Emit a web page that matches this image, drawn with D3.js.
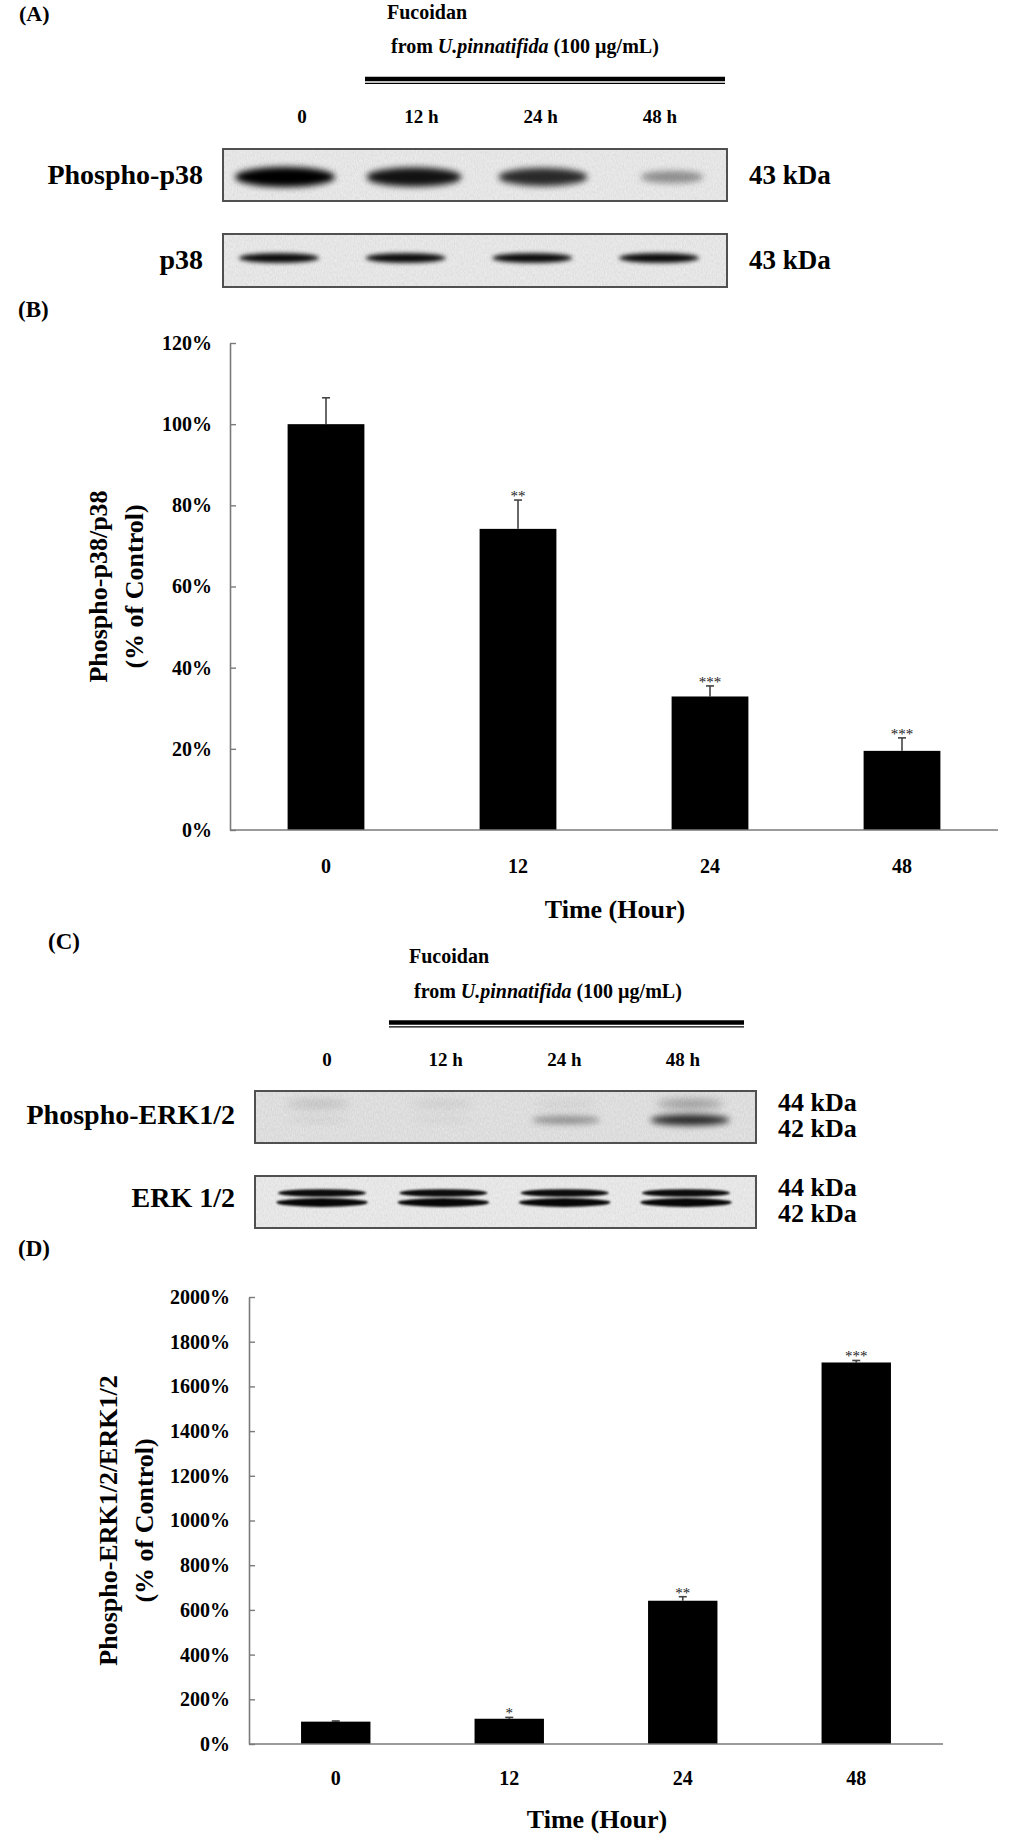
<!DOCTYPE html>
<html>
<head>
<meta charset="utf-8">
<script src="https://cdn.jsdelivr.net/npm/d3@7"></script>
<style>
  html, body { margin: 0; padding: 0; background: #fff; }
  svg { display: block; }
  text { font-family: "Liberation Serif", "Times New Roman", serif; fill: #000; }
</style>
</head>
<body>
<svg id="fig" width="1024" height="1847"></svg>
<script>
// ---------------- data ----------------
const laneLabels = ["0", "12 h", "24 h", "48 h"];
const hours = ["0", "12", "24", "48"];

// Panel B: Phospho-p38/p38 (% of control)
const p38Ratio = [100, 74.2, 32.9, 19.5];
const p38Err = [6.5, 7.1, 2.6, 3.2];
const p38Sig = ["", "**", "***", "***"];
const p38Ticks = [0, 20, 40, 60, 80, 100, 120];

// Panel D: Phospho-ERK1/2/ERK1/2 (% of control)
const erkRatio = [100, 113, 641, 1707];
const erkErr = [3, 6, 18, 9];
const erkSig = ["", "*", "**", "***"];
const erkTicks = [0, 200, 400, 600, 800, 1000, 1200, 1400, 1600, 1800, 2000];

// Blot band intensities (0..1)
const phosphoP38Band = [1.0, 0.92, 0.82, 0.38];
const p38Band = [0.95, 0.95, 0.95, 0.95];
const phosphoErk44Band = [0.14, 0.08, 0.06, 0.32];
const phosphoErk42Band = [0.05, 0.04, 0.36, 0.82];
const erk44Band = [0.95, 0.95, 0.95, 0.95];
const erk42Band = [0.97, 0.97, 0.97, 0.97];

// ---------------- drawing ----------------
const svg = d3.select("#fig");
const defs = svg.append("defs");
[1.2, 2, 3, 4].forEach(s => {
  defs.append("filter").attr("id", "blur" + String(s).replace(".", "_"))
    .attr("x", "-30%").attr("y", "-100%").attr("width", "160%").attr("height", "300%")
    .append("feGaussianBlur").attr("stdDeviation", s);
});
const tex = defs.append("filter").attr("id", "grain").attr("x", 0).attr("y", 0).attr("width", "100%").attr("height", "100%");
tex.append("feTurbulence").attr("type", "fractalNoise").attr("baseFrequency", "0.9 0.35").attr("numOctaves", 2).attr("seed", 3).attr("result", "n");
tex.append("feColorMatrix").attr("in", "n").attr("type", "matrix")
  .attr("values", "0 0 0 0 0  0 0 0 0 0  0 0 0 0 0  0 0 0 0.10 0").attr("result", "a");
tex.append("feComposite").attr("in", "a").attr("in2", "SourceGraphic").attr("operator", "in");

function label(x, y, txt, size, anchor) {
  return svg.append("text").attr("x", x).attr("y", y)
    .attr("font-size", size).attr("font-weight", "bold")
    .attr("text-anchor", anchor || "start").text(txt);
}

function treatmentHeader(o) {
  label(o.fx, o.fy, "Fucoidan", 20);
  const t = svg.append("text").attr("x", o.gx).attr("y", o.gy)
    .attr("font-size", 20).attr("font-weight", "bold");
  t.append("tspan").text("from ");
  t.append("tspan").attr("font-style", "italic").text("U.pinnatifida");
  t.append("tspan").text(" (100 \u00b5g/mL)");
  svg.append("line").attr("x1", o.l0).attr("x2", o.l1).attr("y1", o.ly).attr("y2", o.ly)
    .attr("stroke", "#000").attr("stroke-width", 4.5);
  svg.append("line").attr("x1", o.l0).attr("x2", o.l1).attr("y1", o.ly + 4.3).attr("y2", o.ly + 4.3)
    .attr("stroke", "#000").attr("stroke-width", 1.2);
  const lx = d3.scalePoint().domain(laneLabels).range(o.labRange);
  svg.append("g").selectAll("text").data(laneLabels).join("text")
    .attr("x", d => lx(d)).attr("y", o.laneY)
    .attr("font-size", 19).attr("font-weight", "bold").attr("text-anchor", "middle")
    .text(d => d);
}

function blot(o) {
  const g = svg.append("g");
  g.append("rect").attr("x", o.x0).attr("y", o.y0).attr("width", o.x1 - o.x0).attr("height", o.y1 - o.y0)
    .attr("fill", o.bg);
  g.append("rect").attr("x", o.x0).attr("y", o.y0).attr("width", o.x1 - o.x0).attr("height", o.y1 - o.y0)
    .attr("fill", "#fff").attr("filter", "url(#grain)");
  const bx = d3.scalePoint().domain(laneLabels).range(o.bandRange);
  o.bands.forEach(b => {
    g.append("g").attr("filter", "url(#" + b.blur + ")")
      .selectAll("ellipse").data(b.values).join("ellipse")
      .attr("cx", (d, i) => bx(laneLabels[i]))
      .attr("cy", b.cy)
      .attr("rx", d => b.rx0 + b.rxk * d)
      .attr("ry", d => b.ry0 + b.ryk * d)
      .attr("fill", "#000")
      .attr("fill-opacity", d => Math.min(1, d));
  });
  g.append("rect").attr("x", o.x0).attr("y", o.y0).attr("width", o.x1 - o.x0).attr("height", o.y1 - o.y0)
    .attr("fill", "none").attr("stroke", "#505050").attr("stroke-width", 2);
  label(o.x0 - 20, o.nameY, o.name, 28, "end");
  o.kda.forEach(k => label(o.x1 + 22, k.y, k.t, o.kdaSize || 27, "start"));
}

function barChart(o) {
  const g = svg.append("g");
  const x = d3.scaleBand().domain(hours).range(o.xRange).paddingInner(0.6).paddingOuter(0.3);
  const y = d3.scaleLinear().domain([0, o.max]).range(o.yRange);
  const data = hours.map((h, i) => ({ h, v: o.values[i], e: o.err[i], s: o.sig[i] }));

  // error bars (upper only)
  const eb = g.append("g").attr("stroke", "#444").attr("stroke-width", 1.6);
  eb.selectAll("line.v").data(data).join("line").attr("class", "v")
    .attr("x1", d => x(d.h) + x.bandwidth() / 2).attr("x2", d => x(d.h) + x.bandwidth() / 2)
    .attr("y1", d => y(d.v)).attr("y2", d => y(d.v + d.e));
  eb.selectAll("line.c").data(data).join("line").attr("class", "c")
    .attr("x1", d => x(d.h) + x.bandwidth() / 2 - 4).attr("x2", d => x(d.h) + x.bandwidth() / 2 + 4)
    .attr("y1", d => y(d.v + d.e)).attr("y2", d => y(d.v + d.e));

  g.append("g").selectAll("rect").data(data).join("rect")
    .attr("x", d => x(d.h)).attr("width", x.bandwidth())
    .attr("y", d => y(d.v)).attr("height", d => y(0) - y(d.v))
    .attr("fill", "#000");

  g.append("g").selectAll("text").data(data).join("text")
    .attr("x", d => x(d.h) + x.bandwidth() / 2)
    .attr("y", d => y(d.v + d.e) + 1)
    .attr("text-anchor", "middle").attr("font-size", 15).style("fill", "#222")
    .text(d => d.s);

  const ya = g.append("g").attr("transform", `translate(${o.xRange[0]},0)`)
    .call(d3.axisLeft(y).tickValues(o.ticks).tickSizeInner(-6).tickSizeOuter(0).tickPadding(o.tickPad)
      .tickFormat(d => d + "%"));
  ya.select(".domain").attr("stroke", "#7a7a7a").attr("stroke-width", 1.6);
  ya.selectAll(".tick line").attr("stroke", "#7a7a7a").attr("stroke-width", 1.4);
  ya.selectAll(".tick text").attr("font-size", 20).attr("font-weight", "bold")
    .attr("font-family", "'Liberation Serif', serif").attr("fill", "#000");

  const xa = g.append("g").attr("transform", `translate(0,${o.yRange[0]})`)
    .call(d3.axisBottom(x).tickSize(0).tickPadding(o.xPad));
  xa.select(".domain").attr("stroke", "#7a7a7a").attr("stroke-width", 1.6)
    .attr("d", `M${o.xRange[0]},0H${o.xRange[1]}`);
  xa.selectAll(".tick text").attr("font-size", 20).attr("font-weight", "bold")
    .attr("font-family", "'Liberation Serif', serif").attr("fill", "#000");

  label(o.titleX, o.titleY, "Time (Hour)", 26, "middle");

  const yc = (o.yRange[0] + o.yRange[1]) / 2;
  svg.append("text").attr("transform", `translate(${o.yl1x},${yc}) rotate(-90)`)
    .attr("text-anchor", "middle").attr("font-size", 26).attr("font-weight", "bold")
    .text(o.yl1);
  svg.append("text").attr("transform", `translate(${o.yl2x},${yc}) rotate(-90)`)
    .attr("text-anchor", "middle").attr("font-size", 26).attr("font-weight", "bold")
    .text("(% of Control)");
}

// ---------- Panel A ----------
label(19, 21, "(A)", 22);
treatmentHeader({ fx: 387, fy: 19, gx: 391, gy: 53, l0: 365, l1: 725, ly: 79, labRange: [302, 660], laneY: 123 });
blot({
  x0: 223, x1: 727, y0: 149, y1: 201, bg: "#f1f1f1", bandRange: [285, 672],
  name: "Phospho-p38", nameY: 184,
  kda: [{ t: "43 kDa", y: 184 }],
  bands: [{ values: phosphoP38Band, cy: 177, rx0: 20, rxk: 30, ry0: 4, ryk: 6, blur: "blur3" }]
});
blot({
  x0: 223, x1: 727, y0: 234, y1: 287, bg: "#f1f1f1", bandRange: [279, 659],
  name: "p38", nameY: 269,
  kda: [{ t: "43 kDa", y: 269 }],
  bands: [{ values: p38Band, cy: 258, rx0: 8, rxk: 34, ry0: 1, ryk: 4, blur: "blur2" }]
});

// ---------- Panel B ----------
label(18, 317, "(B)", 23);
barChart({
  values: p38Ratio, err: p38Err, sig: p38Sig, ticks: p38Ticks, max: 120,
  xRange: [230, 998], yRange: [830, 343], tickPad: 18, xPad: 29,
  titleX: 615, titleY: 918,
  yl1: "Phospho-p38/p38", yl1x: 107, yl2x: 143
});

// ---------- Panel C ----------
label(48, 949, "(C)", 23);
treatmentHeader({ fx: 409, fy: 963, gx: 414, gy: 998, l0: 389, l1: 744, ly: 1022.5, labRange: [327, 683], laneY: 1066 });
blot({
  x0: 255, x1: 756, y0: 1091, y1: 1143, bg: "#e9e9e9", bandRange: [318, 690],
  name: "Phospho-ERK1/2", nameY: 1124, kdaSize: 26,
  kda: [{ t: "44 kDa", y: 1111 }, { t: "42 kDa", y: 1137 }],
  bands: [
    { values: phosphoErk44Band, cy: 1104, rx0: 30, rxk: 10, ry0: 4, ryk: 2, blur: "blur4" },
    { values: phosphoErk42Band, cy: 1120, rx0: 30, rxk: 12, ry0: 3, ryk: 3, blur: "blur3" }
  ]
});
blot({
  x0: 255, x1: 756, y0: 1176, y1: 1228, bg: "#f2f2f2", bandRange: [322, 686],
  name: "ERK 1/2", nameY: 1207, kdaSize: 26,
  kda: [{ t: "44 kDa", y: 1196 }, { t: "42 kDa", y: 1222 }],
  bands: [
    { values: erk44Band, cy: 1193, rx0: 10, rxk: 36, ry0: 1, ryk: 3, blur: "blur1_2" },
    { values: erk42Band, cy: 1202.5, rx0: 10, rxk: 37, ry0: 1, ryk: 3.5, blur: "blur1_2" }
  ]
});

// ---------- Panel D ----------
label(18, 1256, "(D)", 23);
barChart({
  values: erkRatio, err: erkErr, sig: erkSig, ticks: erkTicks, max: 2000,
  xRange: [249, 943], yRange: [1744, 1297], tickPad: 19, xPad: 27,
  titleX: 597, titleY: 1828,
  yl1: "Phospho-ERK1/2/ERK1/2", yl1x: 117, yl2x: 153
});
</script>
</body>
</html>
